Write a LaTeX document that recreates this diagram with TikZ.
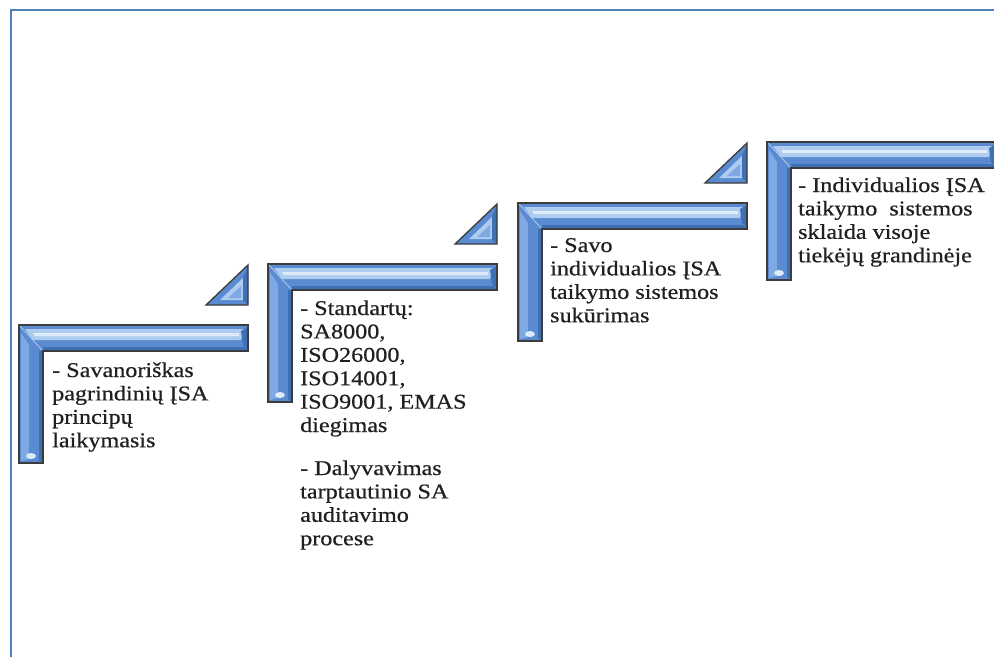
\documentclass[tikz,border=0pt]{standalone}
\usepackage{fontspec}
\setmainfont{Liberation Serif}[FakeStretch=1.15, FakeBold=0.6]
\usetikzlibrary{calc}

\definecolor{framecol}{HTML}{4F81BD}
\definecolor{barmid}{HTML}{5A8BD0}
\definecolor{bardark}{HTML}{3F6FB5}
\definecolor{barlight}{HTML}{AECCF0}
\definecolor{barshine}{HTML}{DDEBFB}
\definecolor{barside}{HTML}{7EA9E4}
\definecolor{edgecol}{HTML}{3C3C3C}
\definecolor{textcol}{HTML}{202020}

\tikzset{
  x=1pt, y=-1pt,
  frameline/.style={draw=framecol, line width=2.5pt},
  edge/.style={draw=edgecol, line width=1.3pt, line join=miter},
  % anchored at the baseline of the last line
  steptext/.style={anchor=base west, inner sep=0pt, align=left, text=textcol,
    font=\fontsize{21}{23.4}\selectfont},
  % bevelled L-shaped step: top bar 229 x 26, upright 24 x 138
  bracket/.pic={
    \fill[barmid] (0,0) -- (229,0) -- (229,26) -- (24,26) -- (24,138) -- (0,138) -- cycle;
    % upright: lighter left bevel, darker right side
    \fill[barside] (2,8) -- (10,20) -- (10,134) -- (2,136) -- cycle;
    \fill[bardark] (20,26) -- (24,26) -- (24,138) -- (20,135) -- cycle;
    % top bar highlight
    \fill[barlight] (6,4) -- (225,4) -- (222,15) -- (14,15) -- cycle;
    \fill[barshine] (14,8) -- (220,8) -- (220,11) -- (16,11) -- cycle;
    \fill[bardark] (24,22) -- (226,22) -- (229,26) -- (24,26) -- cycle;
    % right end bevel
    \fill[bardark] (222,6) -- (229,2) -- (229,24) -- (224,20) -- cycle;
    % corner bevel
    \draw[barlight, line width=0.8pt] (1,1) -- (24,26);
    % glint at the foot of the upright
    \fill[barshine] (12,131) ellipse [x radius=5, y radius=3];
    \path[edge] (0,0) -- (229,0) -- (229,26) -- (24,26) -- (24,138) -- (0,138) -- cycle;
  },
  % bevelled triangle between two steps: 42 x 40
  wedge/.pic={
    \fill[barmid] (0,40) -- (42,0) -- (42,40) -- cycle;
    \fill[barlight] (14,35) -- (37,13) -- (37,35) -- cycle;
    \fill[barside] (22,33) -- (35,21) -- (35,33) -- cycle;
    \fill[bardark] (37,13) -- (42,0) -- (42,40) -- (37,35) -- cycle;
    \path[edge] (0,40) -- (42,0) -- (42,40) -- cycle;
  }
}

\begin{document}
\begin{tikzpicture}
\useasboundingbox (0,0) rectangle (994,657);

% page frame: left and top rules
\draw[frameline] (11,657) -- (11,10) -- (994,10);

% the four steps
\pic at (19,325) {bracket};
\pic at (268,264) {bracket};
\pic at (518,203) {bracket};
\pic at (767,142) {bracket};

% wedges between the steps
\pic at (206,265) {wedge};
\pic at (455,204) {wedge};
\pic at (705,143) {wedge};

% step texts (positions are last-line baselines)
\node[steptext] (s1) at (52,447.2) {- Savanoriškas\\pagrindinių ĮSA\\principų\\laikymasis};
\node[steptext] (s2) at (300,432) {- Standartų:\\SA8000,\\ISO26000,\\ISO14001,\\ISO9001, EMAS\\diegimas};
\node[steptext] (s2b) at (300,545.2) {- Dalyvavimas\\tarptautinio SA\\auditavimo\\procese};
\node[steptext] (s3) at (550,322.2) {- Savo\\individualios ĮSA\\taikymo sistemos\\sukūrimas};
\node[steptext] (s4) at (798,262.2) {- Individualios ĮSA\\taikymo\ \ sistemos\\sklaida visoje\\tiekėjų grandinėje};
\end{tikzpicture}
\end{document}
